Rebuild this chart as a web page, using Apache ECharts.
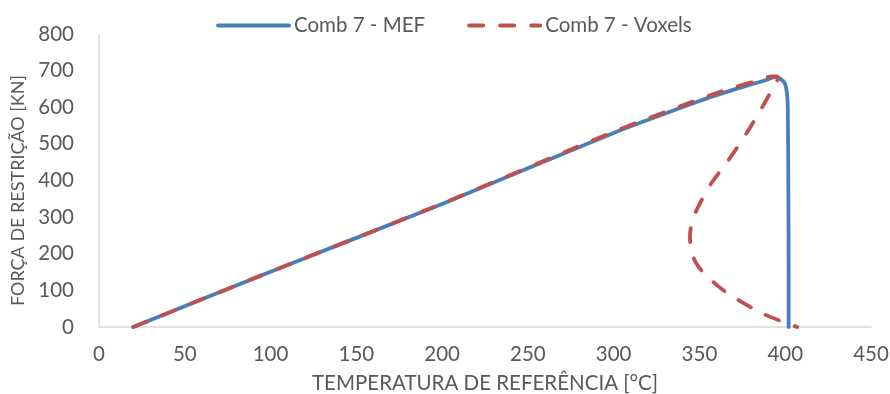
<!DOCTYPE html>
<html>
<head>
<meta charset="utf-8">
<script src="https://cdn.jsdelivr.net/npm/echarts@6/dist/echarts.min.js"></script>
<style>
  html, body { margin: 0; padding: 0; background: #ffffff; }
  #chart { width: 890px; height: 394px; }
</style>
</head>
<body>
<div id="chart"></div>
<script>
// Reference temperature [°C] and restraint force [kN] for each model
const mefTemp  = [20, 100, 200, 300, 350, 360, 370, 380, 388, 394, 397, 399.8, 401, 401.5, 401.8, 402, 402];
const mefForce = [0, 151, 336, 530, 617, 633, 648, 662, 673, 682, 678, 665, 638, 601, 400, 150, 0];

const voxTemp  = [20, 100, 200, 300, 350, 370, 385, 392, 395, 396, 394, 389, 378, 367, 357, 350, 346, 344.5, 345, 348, 352, 360, 368, 385, 398, 404, 407];
const voxForce = [0, 151, 337, 533, 622, 654, 674, 684, 684, 680, 665, 620, 533, 456, 393, 335, 292, 250, 210, 175, 150, 115, 87, 41, 15, 5, 0];

const seriesNames = ['Comb 7 - MEF', 'Comb 7 - Voxels'];
const xTitle = 'TEMPERATURA DE REFERÊNCIA [°C]';
const yTitle = 'FORÇA DE RESTRIÇÃO [KN]';

const toPairs = (xs, ys) => xs.map((x, i) => [x, ys[i]]);

const FONT = 'Lato';
const TEXT = '#595959';
const AXIS = '#d9d9d9';
const BLUE = '#4A7EBB';
const RED = '#C0504D';
const DASH = [14, 17];

const chart = echarts.init(document.getElementById('chart'), null, { renderer: 'canvas' });
chart.setOption({
  animation: false,
  backgroundColor: '#ffffff',
  textStyle: { fontFamily: FONT },
  legend: {
    top: 10,
    left: 211,
    itemWidth: 71,
    itemHeight: 14,
    itemGap: 42,
    itemStyle: { opacity: 0 },
    textStyle: { color: TEXT, fontSize: 20.5, fontFamily: FONT },
    data: [
      { name: seriesNames[0], lineStyle: { color: BLUE, width: 4, cap: 'round' } },
      { name: seriesNames[1], lineStyle: { color: RED, width: 4, type: DASH, cap: 'round' } }
    ]
  },
  grid: { left: 99, right: 19, top: 34, bottom: 67, outerBoundsMode: 'none', containLabel: false },
  xAxis: {
    type: 'value',
    min: 0, max: 450, interval: 50,
    name: xTitle,
    nameLocation: 'middle',
    nameGap: 46,
    nameTextStyle: { color: TEXT, fontSize: 20.5, fontFamily: FONT },
    axisLine: { show: true, lineStyle: { color: AXIS, width: 1.5 } },
    axisTick: { show: false },
    axisLabel: { color: TEXT, fontSize: 20.5, fontFamily: FONT, margin: 17 },
    splitLine: { show: false }
  },
  yAxis: {
    type: 'value',
    min: 0, max: 800, interval: 100,
    name: yTitle,
    nameLocation: 'middle',
    nameGap: 66,
    nameRotate: 90,
    nameTextStyle: { color: TEXT, fontSize: 18, fontFamily: FONT, padding: [0, 20, 0, 0] },
    axisLine: { show: true, lineStyle: { color: AXIS, width: 1.5 } },
    axisTick: { show: false },
    axisLabel: { color: TEXT, fontSize: 20.5, fontFamily: FONT, margin: 25 },
    splitLine: { show: false }
  },
  series: [
    {
      name: seriesNames[0],
      type: 'line',
      data: toPairs(mefTemp, mefForce),
      showSymbol: false,
      symbol: 'none',
      smooth: 0.2,
      lineStyle: { color: BLUE, width: 3.8, cap: 'round', join: 'round' },
      itemStyle: { color: BLUE },
      z: 2
    },
    {
      name: seriesNames[1],
      type: 'line',
      data: toPairs(voxTemp, voxForce),
      showSymbol: false,
      symbol: 'none',
      smooth: 0.3,
      lineStyle: { color: RED, width: 3.8, type: DASH, cap: 'round', join: 'round' },
      itemStyle: { color: RED },
      z: 3
    }
  ]
});
</script>
</body>
</html>
